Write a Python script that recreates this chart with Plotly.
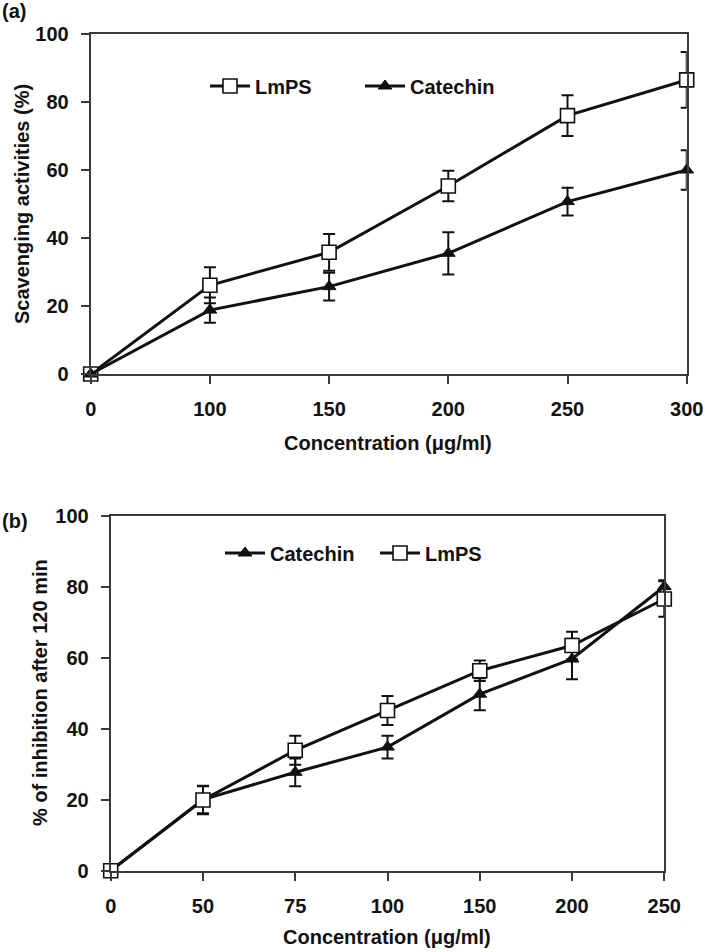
import plotly.graph_objects as go

# ---- Panel (a) data ----
conc_a = ["0", "100", "150", "200", "250", "300"]
lmps_a = [0, 26.1, 35.8, 55.3, 76.0, 86.5]
lmps_a_err = [0, 5.3, 5.4, 4.5, 6.0, 8.2]
cat_a = [0, 18.8, 25.7, 35.5, 50.7, 60.0]
cat_a_err = [0, 3.7, 4.1, 6.2, 4.1, 5.8]

# ---- Panel (b) data ----
conc_b = ["0", "50", "75", "100", "150", "200", "250"]
cat_b = [0, 20.0, 27.7, 34.8, 49.7, 59.6, 80.0]
cat_b_err = [0, 3.8, 3.9, 3.2, 4.5, 5.7, 1.8]
lmps_b = [0, 19.9, 33.9, 45.1, 56.3, 63.4, 76.5]
lmps_b_err = [0, 4.0, 4.1, 4.1, 2.9, 3.9, 5.0]

y_ticks = [0, 20, 40, 60, 80, 100]

W, H = 705, 952
FONT = "Liberation Sans, Arial, sans-serif"
BLACK = "#111111"
FRAME = "#3a3a3a"


def px(x):
    return x / W


def py(y):
    return 1 - y / H


square = dict(symbol="square", size=14, color="white", line=dict(color=BLACK, width=1.6))
tri = dict(symbol="triangle-up", size=12, color=BLACK, line=dict(color=BLACK, width=1))
line = dict(color=BLACK, width=3)


def err(arr):
    return dict(type="data", array=arr, visible=True, color=BLACK, thickness=2, width=6)


fig = go.Figure()

fig.add_trace(go.Scatter(x=conc_a, y=lmps_a, name="LmPS", mode="lines+markers",
                         line=line, marker=square, error_y=err(lmps_a_err),
                         xaxis="x", yaxis="y", legend="legend", cliponaxis=False))
fig.add_trace(go.Scatter(x=conc_a, y=cat_a, name="Catechin", mode="lines+markers",
                         line=line, marker=tri, error_y=err(cat_a_err),
                         xaxis="x", yaxis="y", legend="legend", cliponaxis=False))

fig.add_trace(go.Scatter(x=conc_b, y=cat_b, name="Catechin", mode="lines+markers",
                         line=line, marker=tri, error_y=err(cat_b_err),
                         xaxis="x2", yaxis="y2", legend="legend2", cliponaxis=False))
fig.add_trace(go.Scatter(x=conc_b, y=lmps_b, name="LmPS", mode="lines+markers",
                         line=line, marker=square, error_y=err(lmps_b_err),
                         xaxis="x2", yaxis="y2", legend="legend2", cliponaxis=False))

tickfont = dict(family=FONT, size=20, color=BLACK, weight="bold")

axis_common = dict(showline=True, linecolor=FRAME, linewidth=2, mirror=True,
                   ticks="outside", ticklen=8, tickwidth=2, tickcolor=FRAME,
                   showgrid=False, zeroline=False, tickfont=tickfont,
                   automargin=False, ticklabelstandoff=8)

legend_font = dict(family=FONT, size=20, color=BLACK, weight="bold")

fig.update_layout(
    template="none",
    width=W, height=H, autosize=False,
    margin=dict(l=0, r=0, t=0, b=0, pad=0),
    paper_bgcolor="white", plot_bgcolor="white",
    font=dict(family=FONT, color=BLACK),
    xaxis=dict(domain=[px(90.7), px(686.7)], anchor="y", type="category",
               categoryorder="array", categoryarray=conc_a,
               range=[0, len(conc_a) - 1], **axis_common),
    yaxis=dict(domain=[py(374), py(34)], anchor="x", range=[0, 100],
               tickvals=y_ticks, **axis_common),
    xaxis2=dict(domain=[px(110.7), px(664.3)], anchor="y2", type="category",
                categoryorder="array", categoryarray=conc_b,
                range=[0, len(conc_b) - 1], **axis_common),
    yaxis2=dict(domain=[py(870.7), py(515.5)], anchor="x2", range=[0, 100],
                tickvals=y_ticks, **axis_common),
    legend=dict(orientation="h", x=px(205), y=py(86), xanchor="left", yanchor="middle",
                bgcolor="rgba(0,0,0,0)", font=legend_font, itemwidth=40, tracegroupgap=0,
                entrywidth=100, entrywidthmode="pixels"),
    legend2=dict(orientation="h", x=px(220), y=py(553), xanchor="left", yanchor="middle",
                 bgcolor="rgba(0,0,0,0)", font=legend_font, itemwidth=40, tracegroupgap=0,
                 entrywidth=100, entrywidthmode="pixels"),
    showlegend=True,
)

ann_font = dict(family=FONT, size=20, color=BLACK)
annotations = [
    dict(text="<b>(a)</b>", x=px(0), y=py(11), xanchor="left", yanchor="middle"),
    dict(text="<b>(b)</b>", x=px(0), y=py(521), xanchor="left", yanchor="middle"),
    dict(text="<b>Concentration (μg/ml)</b>", x=px(388), y=py(443), xanchor="center", yanchor="middle"),
    dict(text="<b>Concentration (μg/ml)</b>", x=px(387), y=py(937), xanchor="center", yanchor="middle"),
    dict(text="<b>Scavenging activities (%)</b>", x=px(22), y=py(204), xanchor="center",
         yanchor="middle", textangle=-90),
    dict(text="<b>% of inhibition after 120 min</b>", x=px(40), y=py(693), xanchor="center",
         yanchor="middle", textangle=-90),
]
for a in annotations:
    a.update(xref="paper", yref="paper", showarrow=False, font=ann_font)
fig.update_layout(annotations=annotations)

fig.write_html(
    "out.html",
    config={"displayModeBar": False},
    post_script="document.body.style.margin='0';document.body.style.overflow='hidden';",
)
